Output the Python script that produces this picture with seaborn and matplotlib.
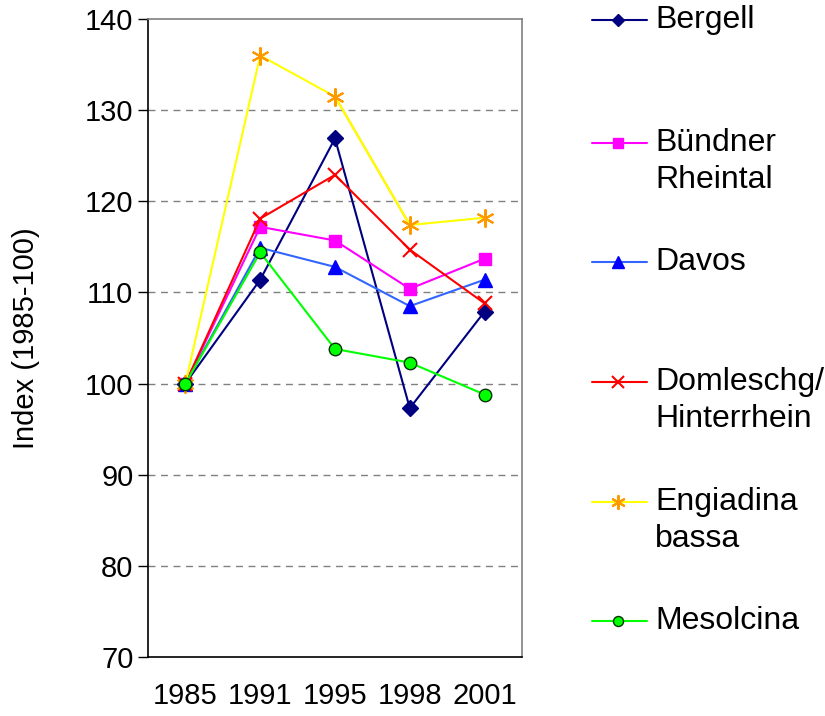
import pandas as pd
import matplotlib
matplotlib.use("Agg")
import matplotlib.pyplot as plt
import seaborn as sns
from matplotlib.lines import Line2D

years = ["1985", "1991", "1995", "1998", "2001"]
regions = ["Bergell", "Bündner\nRheintal", "Davos", "Domleschg/\nHinterrhein",
           "Engiadina\nbassa", "Mesolcina"]
bergell = [100, 111.4, 126.9, 97.3, 107.9]
buendner = [100, 117.2, 115.7, 110.4, 113.7]
davos = [100, 114.9, 112.8, 108.5, 111.4]
domleschg = [100, 118.1, 122.9, 114.7, 108.8]
engiadina = [100, 136.0, 131.5, 117.4, 118.2]
mesolcina = [100, 114.4, 103.8, 102.3, 98.8]
series = [bergell, buendner, davos, domleschg, engiadina, mesolcina]

# line colour, marker, marker face, marker edge, marker size
styles = [
    ("#000080", "D", "#000080", "#000080", 8),
    ("#FF00FF", "s", "#FF00FF", "#FF00FF", 9),
    ("#3366FF", "^", "#0000FF", "#0000FF", 10),
    ("#FF0000", "x", "#FF0000", "#FF0000", 10),
    ("#FFFF00", (6, 2, 0), "#FF9900", "#FF9900", 13),
    ("#00FF00", "o", "#00FF00", "#003300", 9),
]

rows = []
for name, vals in zip(regions, series):
    for i, (yr, v) in enumerate(zip(years, vals)):
        rows.append({"region": name, "pos": i, "year": yr, "value": v})
df = pd.DataFrame(rows)

sns.set_style("white")
plt.rcParams["font.family"] = ["Liberation Sans", "DejaVu Sans"]
plt.rcParams["text.color"] = "black"
plt.rcParams["axes.labelcolor"] = "black"
plt.rcParams["xtick.color"] = "black"
plt.rcParams["ytick.color"] = "black"

fig = plt.figure(figsize=(8.25, 7.16), dpi=100)
ax = fig.add_axes([0.1794, 0.0824, 0.4533, 0.891])

for name, (lc, mk, mf, me, ms) in zip(regions, styles):
    sub = df[df["region"] == name]
    sns.lineplot(data=sub, x="pos", y="value", ax=ax, color=lc, lw=1.5,
                 marker=mk, markersize=ms, markerfacecolor=mf,
                 markeredgecolor=me, markeredgewidth=1.5 if mk in ("x", (6, 2, 0)) else 1,
                 legend=False, zorder=3)

# Engiadina segment 1995-1998 drawn in a darker yellow
eng = df[df["region"] == "Engiadina\nbassa"].iloc[2:4]
ax.plot(eng["pos"], eng["value"], color="#FFC000", lw=1.5, zorder=2.9)

ax.set_xlim(-0.5, 4.5)
ax.set_ylim(70, 140)
ax.set_yticks(range(70, 141, 10))
ax.set_xticks(range(len(years)))
ax.set_xticklabels(years)
ax.set_xticks([i - 0.5 for i in range(len(years) + 1)], minor=True)
ax.tick_params(axis="x", which="major", length=0, labelsize=21, pad=18)
ax.tick_params(axis="x", which="minor", length=7, width=1, color="black", direction="out")
ax.tick_params(axis="y", length=7, width=1, color="black", direction="out", labelsize=21, left=True)
ax.set_xlabel("")
ax.set_ylabel("Index (1985-100)", fontsize=21, labelpad=32)

for y in range(80, 140, 10):
    ax.axhline(y, color="#808080", lw=1, ls=(0, (5, 4)), zorder=1)

for side in ("left", "bottom"):
    ax.spines[side].set_color("black")
    ax.spines[side].set_linewidth(1.2)
for side in ("top", "right"):
    ax.spines[side].set_color("#808080")
    ax.spines[side].set_linewidth(1.2)

# legend drawn at the right
W, H = 825, 716
ys = [20, 143, 262, 382, 502, 621]
for name, (lc, mk, mf, me, ms), yy in zip(regions, styles, ys):
    fy = 1 - yy / H
    fig.add_artist(Line2D([592 / W, 647 / W], [fy, fy], color=lc, lw=1.5,
                          transform=fig.transFigure))
    fig.add_artist(Line2D([618 / W], [fy], marker=mk, markersize=ms * 0.8,
                          markerfacecolor=mf, markeredgecolor=me,
                          markeredgewidth=1.5 if mk in ("x", (6, 2, 0)) else 1,
                          transform=fig.transFigure))
    for k, part in enumerate(name.split("\n")):
        fig.text(655 / W, 1 - (yy + k * 37) / H, part, fontsize=23,
                 va="center", ha="left")

fig.savefig("out.png", dpi=100)
